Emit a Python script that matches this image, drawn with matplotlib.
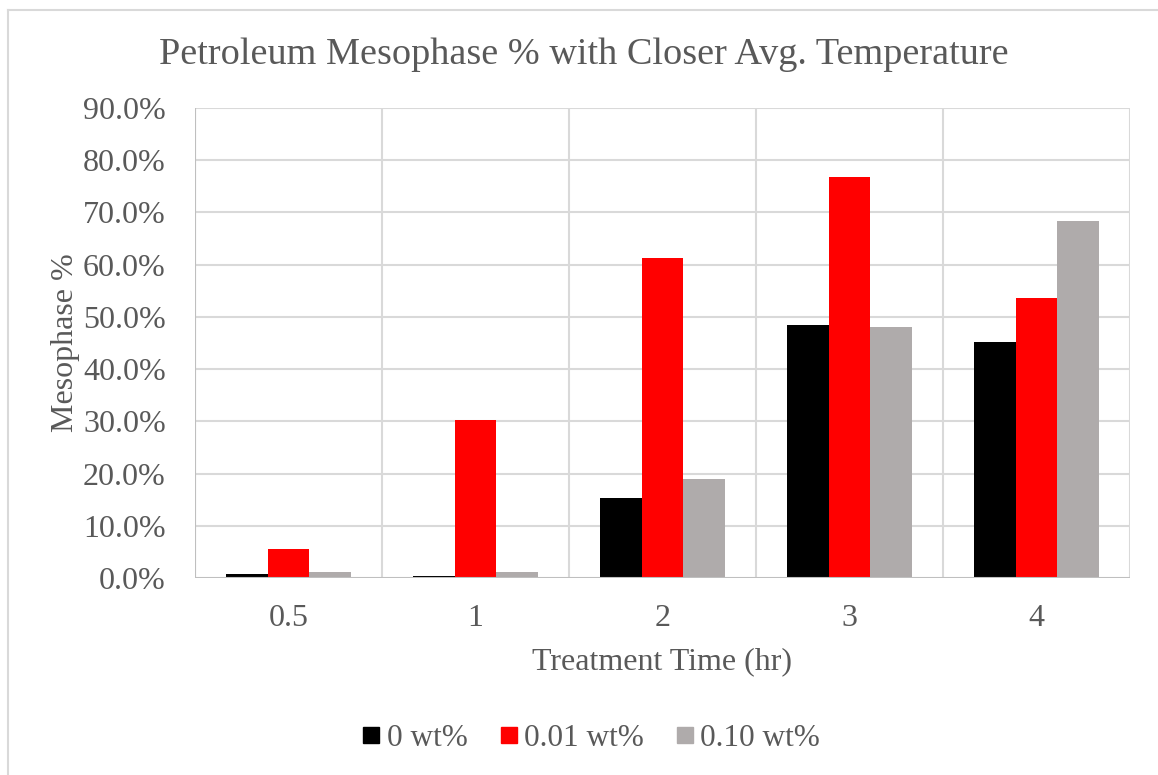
import matplotlib
matplotlib.use("Agg")
import matplotlib.pyplot as plt
import numpy as np
from matplotlib.lines import Line2D

categories = ["0.5", "1", "2", "3", "4"]
series_names = ["0 wt%", "0.01 wt%", "0.10 wt%"]
s0 = [0.8, 0.3, 15.3, 48.4, 45.1]
s1 = [5.5, 30.3, 61.3, 76.8, 53.6]
s2 = [1.1, 1.1, 19.0, 48.1, 68.3]
colors = ["#000000", "#ff0000", "#afabab"]

plt.rcParams['font.family'] = ['Liberation Serif', 'DejaVu Serif']
txt = "#595959"
grid = "#d9d9d9"

W, H = 1158, 775
fig = plt.figure(figsize=(W/100, H/100), dpi=100)
ax = fig.add_axes([195/W, 1-578/H, (1130-195)/W, (578-108)/H])

x = np.arange(len(categories))
bw = 0.223
for i, (vals, c) in enumerate(zip([s0, s1, s2], colors)):
    ax.bar(x + (i-1)*bw, vals, bw, color=c, zorder=3, label=series_names[i])

ax.set_xlim(-0.5, len(categories)-0.5)
ax.set_ylim(0, 90)
ax.set_yticks(np.arange(0, 91, 10))
ax.set_yticklabels([f"{v:.1f}%" for v in np.arange(0, 91, 10)])
ax.set_xticks(x)
ax.set_xticklabels(categories)
ax.tick_params(axis='both', length=0, labelsize=23, colors=txt)
ax.tick_params(axis='y', pad=21)
ax.tick_params(axis='x', pad=19)
for yv in np.arange(10, 91, 10):
    ax.axhline(yv, color=grid, lw=1.5, zorder=1)
for xv in np.arange(-0.5, len(categories)+0.5, 1):
    ax.axvline(xv, color=grid, lw=1.5, zorder=1)
for s in ax.spines.values():
    s.set_visible(False)
ax.axvline(-0.5, color="#bfbfbf", lw=1.5, zorder=4)
ax.axhline(0, color="#bfbfbf", lw=1.5, zorder=4)

ax.set_xlabel("Treatment Time (hr)", fontsize=23, color=txt, labelpad=10)
ax.set_ylabel("Mesophase %", fontsize=23, color=txt, labelpad=2)
fig.text(584/W, 1-55/H, "Petroleum Mesophase % with Closer Avg. Temperature",
         ha='center', va='center', fontsize=27.5, color=txt)

handles = [Line2D([], [], marker='s', ls='none', color=c, markersize=11) for c in colors]
leg = fig.legend(handles, series_names, loc='center', bbox_to_anchor=(588/W, 1-738/H),
                 ncol=3, frameon=False, fontsize=22.5, handletextpad=0.0,
                 columnspacing=0.8, handlelength=1.0)
for t in leg.get_texts():
    t.set_color(txt)

fig.add_artist(Line2D([8/W, 8/W], [0, 1-10/H], color=grid, lw=1.5, transform=fig.transFigure))
fig.add_artist(Line2D([8/W, 1], [1-10/H, 1-10/H], color=grid, lw=1.5, transform=fig.transFigure))

fig.savefig("out.png", dpi=100)
